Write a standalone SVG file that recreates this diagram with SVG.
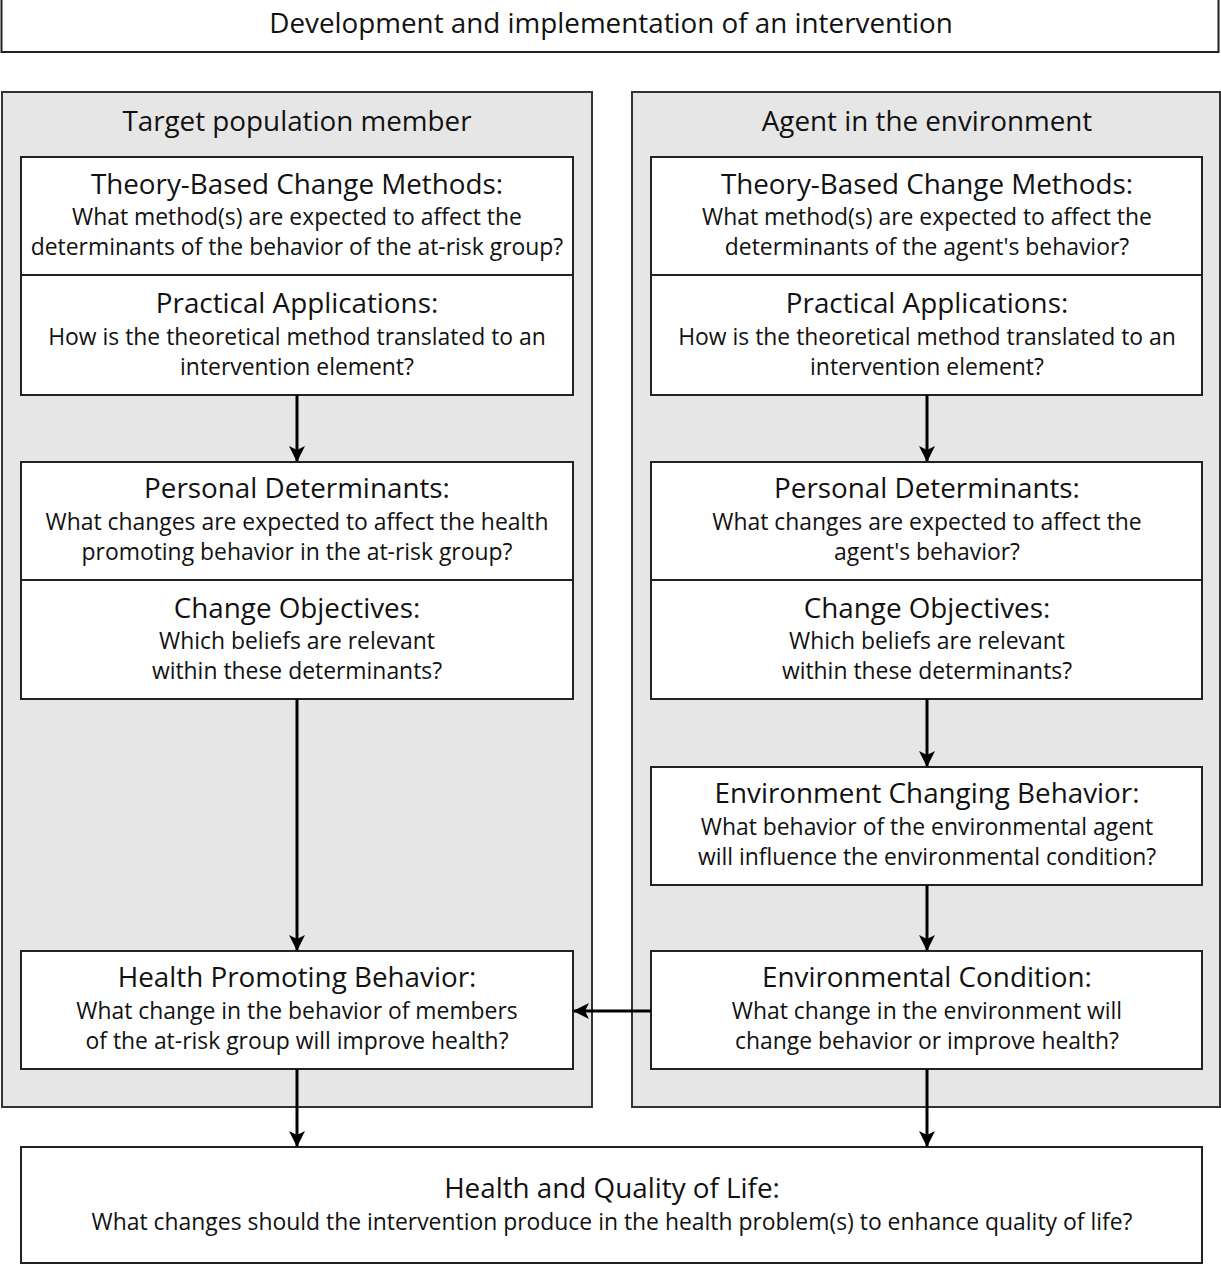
<svg xmlns="http://www.w3.org/2000/svg" width="1221" height="1267" viewBox="0 0 1221 1267">
<style>
.box{fill:#fff;stroke:#222;stroke-width:2}
.panel{fill:#e6e6e6;stroke:#333;stroke-width:2}
text{font-family:"Open Sans","Noto Sans",sans-serif;fill:#111;text-anchor:middle}
.h{font-size:27.8px}
.b{font-size:22.9px}
.conn line{stroke:#000;stroke-width:3;marker-end:url(#ah)}
</style>
<defs>
<marker id="ah" markerWidth="16" markerHeight="16" viewBox="0 0 16 16" refX="15" refY="8" orient="auto" markerUnits="userSpaceOnUse">
<path d="M0,0 L16,8 L0,16 L4,8 Z" fill="#000"/>
</marker>
</defs>
<rect width="1221" height="1267" fill="#fff"/>
<g id="top"><rect class="box" x="1.5" y="-2" width="1217" height="54"/><text class="h" x="611" y="33">Development and implementation of an intervention</text></g>
<g id="panel-left"><rect class="panel" x="2" y="92" width="590" height="1015"/><text class="h" x="297" y="131">Target population member</text></g>
<g id="panel-right"><rect class="panel" x="632" y="92" width="588" height="1015"/><text class="h" x="927" y="131">Agent in the environment</text></g>

<g id="l-methods"><rect class="box" x="21" y="157" width="552" height="118"/>
<text class="h" x="297" y="194">Theory-Based Change Methods:</text>
<text class="b" x="297" y="225">What method(s) are expected to affect the</text>
<text class="b" x="297" y="255">determinants of the behavior of the at-risk group?</text></g>
<g id="l-apps"><rect class="box" x="21" y="275" width="552" height="120"/>
<text class="h" x="297" y="313">Practical Applications:</text>
<text class="b" x="297" y="345">How is the theoretical method translated to an</text>
<text class="b" x="297" y="375">intervention element?</text></g>
<g id="l-determinants"><rect class="box" x="21" y="462" width="552" height="118"/>
<text class="h" x="297" y="498">Personal Determinants:</text>
<text class="b" x="297" y="530">What changes are expected to affect the health</text>
<text class="b" x="297" y="560">promoting behavior in the at-risk group?</text></g>
<g id="l-objectives"><rect class="box" x="21" y="580" width="552" height="119"/>
<text class="h" x="297" y="618">Change Objectives:</text>
<text class="b" x="297" y="649">Which beliefs are relevant</text>
<text class="b" x="297" y="679">within these determinants?</text></g>
<g id="l-behavior"><rect class="box" x="21" y="951" width="552" height="118"/>
<text class="h" x="297" y="987">Health Promoting Behavior:</text>
<text class="b" x="297" y="1019">What change in the behavior of members</text>
<text class="b" x="297" y="1049">of the at-risk group will improve health?</text></g>

<g id="r-methods"><rect class="box" x="651" y="157" width="551" height="118"/>
<text class="h" x="927" y="194">Theory-Based Change Methods:</text>
<text class="b" x="927" y="225">What method(s) are expected to affect the</text>
<text class="b" x="927" y="255">determinants of the agent's behavior?</text></g>
<g id="r-apps"><rect class="box" x="651" y="275" width="551" height="120"/>
<text class="h" x="927" y="313">Practical Applications:</text>
<text class="b" x="927" y="345">How is the theoretical method translated to an</text>
<text class="b" x="927" y="375">intervention element?</text></g>
<g id="r-determinants"><rect class="box" x="651" y="462" width="551" height="118"/>
<text class="h" x="927" y="498">Personal Determinants:</text>
<text class="b" x="927" y="530">What changes are expected to affect the</text>
<text class="b" x="927" y="560">agent's behavior?</text></g>
<g id="r-objectives"><rect class="box" x="651" y="580" width="551" height="119"/>
<text class="h" x="927" y="618">Change Objectives:</text>
<text class="b" x="927" y="649">Which beliefs are relevant</text>
<text class="b" x="927" y="679">within these determinants?</text></g>
<g id="r-envbehavior"><rect class="box" x="651" y="767" width="551" height="118"/>
<text class="h" x="927" y="803">Environment Changing Behavior:</text>
<text class="b" x="927" y="835">What behavior of the environmental agent</text>
<text class="b" x="927" y="865">will influence the environmental condition?</text></g>
<g id="r-condition"><rect class="box" x="651" y="951" width="551" height="118"/>
<text class="h" x="927" y="987">Environmental Condition:</text>
<text class="b" x="927" y="1019">What change in the environment will</text>
<text class="b" x="927" y="1049">change behavior or improve health?</text></g>

<g id="health"><rect class="box" x="21" y="1147" width="1181" height="116"/>
<text class="h" x="612" y="1198">Health and Quality of Life:</text>
<text class="b" x="612" y="1230">What changes should the intervention produce in the health problem(s) to enhance quality of life?</text></g>

<g class="conn" id="connectors">
<line x1="297" y1="395" x2="297" y2="461"/>
<line x1="297" y1="699" x2="297" y2="950"/>
<line x1="297" y1="1069" x2="297" y2="1146"/>
<line x1="927" y1="395" x2="927" y2="461"/>
<line x1="927" y1="699" x2="927" y2="766"/>
<line x1="927" y1="885" x2="927" y2="950"/>
<line x1="927" y1="1069" x2="927" y2="1146"/>
<line x1="651" y1="1011" x2="574" y2="1011"/>
</g>
</svg>
